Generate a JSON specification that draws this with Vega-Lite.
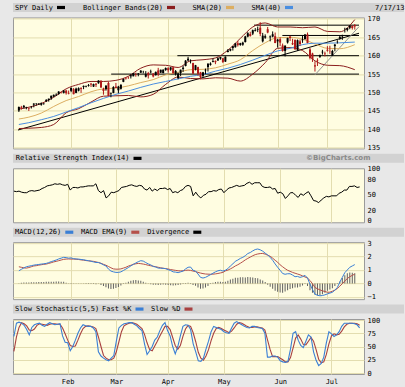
{
"$schema":"https://vega.github.io/schema/vega-lite/v6.json",
"background":"#e8e8e8",
"padding":{"left":11,"top":3,"right":3,"bottom":2},
"datasets":{
"px":[
{"n":0,"o":145.1,"h":146.2,"l":144.7,"c":146.06,"r":57,"m":0.94,"s":1.24,"v":0.02,"k":69,"d":41},
{"n":1,"o":145.99,"h":146.37,"l":145.34,"c":145.73,"r":56,"m":1.05,"s":1.2,"v":0.05,"k":94,"d":68},
{"n":2,"o":145.97,"h":146.61,"l":145.67,"c":146.37,"r":57,"m":1.15,"s":1.16,"v":0.06,"k":96,"d":86},
{"n":3,"o":145.85,"h":146.11,"l":145.43,"c":145.97,"r":55,"m":1.24,"s":1.14,"v":0.06,"k":94,"d":95},
{"n":4,"o":145.71,"h":145.91,"l":144.98,"c":145.55,"r":54,"m":1.28,"s":1.18,"v":0.07,"k":90,"d":93},
{"n":5,"o":145.87,"h":146.32,"l":145.64,"c":145.92,"r":54,"m":1.32,"s":1.24,"v":0.08,"k":82,"d":89},
{"n":6,"o":146.7,"h":147.09,"l":145.97,"c":146.98,"r":57,"m":1.36,"s":1.3,"v":0.08,"k":72,"d":81},
{"n":7,"o":146.96,"h":147.07,"l":146.43,"c":147.07,"r":58,"m":1.39,"s":1.32,"v":0.09,"k":86,"d":80},
{"n":8,"o":146.77,"h":147.1,"l":146.62,"c":146.97,"r":57,"m":1.41,"s":1.36,"v":0.1,"k":91,"d":83},
{"n":9,"o":146.66,"h":147.3,"l":146.41,"c":147.07,"r":58,"m":1.44,"s":1.39,"v":0.1,"k":93,"d":90},
{"n":10,"o":146.96,"h":147.14,"l":146.66,"c":147.05,"r":59,"m":1.46,"s":1.42,"v":0.11,"k":94,"d":93},
{"n":11,"o":147.61,"h":148.17,"l":147.43,"c":148.0,"r":62,"m":1.49,"s":1.44,"v":0.12,"k":90,"d":92},
{"n":12,"o":147.96,"h":148.33,"l":147.52,"c":148.33,"r":64,"m":1.55,"s":1.49,"v":0.12,"k":88,"d":91},
{"n":13,"o":148.45,"h":149.13,"l":148.0,"c":149.13,"r":67,"m":1.62,"s":1.54,"v":0.13,"k":92,"d":90},
{"n":14,"o":148.9,"h":149.45,"l":148.72,"c":149.37,"r":68,"m":1.68,"s":1.6,"v":0.13,"k":95,"d":92},
{"n":15,"o":149.2,"h":149.77,"l":149.05,"c":149.41,"r":69,"m":1.74,"s":1.64,"v":0.14,"k":93,"d":93},
{"n":16,"o":149.61,"h":150.36,"l":149.38,"c":150.25,"r":71,"m":1.82,"s":1.69,"v":0.14,"k":91,"d":93},
{"n":17,"o":150.04,"h":150.28,"l":149.73,"c":149.99,"r":70,"m":1.88,"s":1.74,"v":0.13,"k":92,"d":92},
{"n":18,"o":149.9,"h":150.64,"l":149.74,"c":150.51,"r":71,"m":1.94,"s":1.79,"v":0.12,"k":93,"d":92},
{"n":19,"o":150.52,"h":150.73,"l":149.42,"c":149.83,"r":69,"m":1.92,"s":1.81,"v":0.05,"k":70,"d":85},
{"n":20,"o":149.84,"h":150.53,"l":149.5,"c":149.7,"r":68,"m":1.88,"s":1.82,"v":0.02,"k":58,"d":74},
{"n":21,"o":150.45,"h":151.36,"l":150.1,"c":151.24,"r":70,"m":1.9,"s":1.81,"v":0.03,"k":57,"d":62},
{"n":22,"o":150.9,"h":151.2,"l":149.5,"c":149.54,"r":59,"m":1.84,"s":1.81,"v":-0.02,"k":42,"d":52},
{"n":23,"o":149.9,"h":151.31,"l":149.8,"c":151.05,"r":64,"m":1.82,"s":1.8,"v":-0.02,"k":50,"d":50},
{"n":24,"o":150.5,"h":151.4,"l":150.3,"c":151.16,"r":64,"m":1.81,"s":1.78,"v":-0.02,"k":62,"d":51},
{"n":25,"o":151.2,"h":151.44,"l":149.9,"c":150.96,"r":63,"m":1.78,"s":1.75,"v":-0.03,"k":75,"d":62},
{"n":26,"o":151.5,"h":151.9,"l":150.9,"c":151.8,"r":65,"m":1.76,"s":1.73,"v":-0.03,"k":85,"d":74},
{"n":27,"o":151.6,"h":151.9,"l":151.4,"c":151.77,"r":65,"m":1.72,"s":1.7,"v":-0.04,"k":91,"d":84},
{"n":28,"o":151.8,"h":152.3,"l":151.6,"c":152.02,"r":66,"m":1.69,"s":1.68,"v":-0.04,"k":89,"d":88},
{"n":29,"o":152.4,"h":152.6,"l":151.5,"c":152.15,"r":67,"m":1.65,"s":1.66,"v":-0.05,"k":88,"d":89},
{"n":30,"o":151.6,"h":152.4,"l":151.5,"c":152.29,"r":67,"m":1.6,"s":1.64,"v":-0.05,"k":88,"d":88},
{"n":31,"o":152.4,"h":152.5,"l":151.5,"c":152.11,"r":67,"m":1.56,"s":1.6,"v":-0.06,"k":85,"d":87},
{"n":32,"o":152.5,"h":153.3,"l":152.4,"c":153.25,"r":71,"m":1.56,"s":1.55,"v":-0.03,"k":78,"d":84},
{"n":33,"o":153.2,"h":153.3,"l":151.3,"c":151.34,"r":58,"m":1.48,"s":1.5,"v":-0.12,"k":40,"d":68},
{"n":34,"o":151.0,"h":151.3,"l":149.4,"c":150.42,"r":54,"m":1.38,"s":1.42,"v":-0.2,"k":32,"d":50},
{"n":35,"o":150.9,"h":151.9,"l":150.5,"c":151.89,"r":58,"m":1.3,"s":1.35,"v":-0.28,"k":28,"d":33},
{"n":36,"o":152.6,"h":152.9,"l":149.0,"c":149.0,"r":44,"m":1.07,"s":1.26,"v":-0.38,"k":25,"d":28},
{"n":37,"o":149.6,"h":150.0,"l":148.7,"c":149.75,"r":48,"m":0.92,"s":1.16,"v":-0.42,"k":23,"d":25},
{"n":38,"o":149.9,"h":151.7,"l":149.8,"c":151.5,"r":55,"m":0.86,"s":1.08,"v":-0.4,"k":28,"d":25},
{"n":39,"o":151.6,"h":152.6,"l":151.2,"c":151.22,"r":54,"m":0.82,"s":1.06,"v":-0.34,"k":33,"d":28},
{"n":40,"o":150.6,"h":151.8,"l":149.8,"c":151.61,"r":56,"m":0.82,"s":1.06,"v":-0.26,"k":60,"d":40},
{"n":41,"o":151.0,"h":152.2,"l":150.8,"c":152.11,"r":58,"m":0.86,"s":1.08,"v":-0.15,"k":85,"d":59},
{"n":42,"o":152.9,"h":153.8,"l":152.8,"c":153.66,"r":64,"m":0.96,"s":1.14,"v":-0.05,"k":90,"d":78},
{"n":43,"o":153.9,"h":154.2,"l":153.5,"c":153.79,"r":65,"m":1.07,"s":1.2,"v":0.05,"k":93,"d":89},
{"n":44,"o":154.1,"h":154.3,"l":153.7,"c":154.07,"r":66,"m":1.18,"s":1.29,"v":0.12,"k":94,"d":92},
{"n":45,"o":154.4,"h":155.0,"l":153.8,"c":154.7,"r":68,"m":1.3,"s":1.35,"v":0.2,"k":95,"d":94},
{"n":46,"o":154.4,"h":155.3,"l":154.4,"c":155.24,"r":69,"m":1.42,"s":1.42,"v":0.24,"k":95,"d":95},
{"n":47,"o":155.0,"h":155.4,"l":154.3,"c":154.91,"r":67,"m":1.52,"s":1.46,"v":0.25,"k":92,"d":94},
{"n":48,"o":155.0,"h":155.3,"l":154.4,"c":155.13,"r":66,"m":1.62,"s":1.49,"v":0.22,"k":89,"d":92},
{"n":49,"o":155.4,"h":156.1,"l":155.3,"c":155.92,"r":68,"m":1.69,"s":1.47,"v":0.2,"k":84,"d":88},
{"n":50,"o":155.8,"h":155.9,"l":155.2,"c":155.83,"r":67,"m":1.66,"s":1.44,"v":0.12,"k":80,"d":84},
{"n":51,"o":154.3,"h":155.8,"l":154.1,"c":154.97,"r":61,"m":1.55,"s":1.4,"v":0.05,"k":55,"d":73},
{"n":52,"o":155.3,"h":155.6,"l":153.8,"c":154.61,"r":59,"m":1.45,"s":1.35,"v":-0.02,"k":35,"d":57},
{"n":53,"o":155.5,"h":156.2,"l":155.2,"c":155.69,"r":64,"m":1.38,"s":1.31,"v":-0.06,"k":42,"d":44},
{"n":54,"o":155.1,"h":155.3,"l":154.1,"c":154.36,"r":57,"m":1.26,"s":1.28,"v":-0.1,"k":50,"d":42},
{"n":55,"o":154.7,"h":155.7,"l":154.6,"c":155.6,"r":61,"m":1.22,"s":1.24,"v":-0.1,"k":62,"d":51},
{"n":56,"o":156.0,"h":156.7,"l":154.4,"c":154.95,"r":58,"m":1.14,"s":1.2,"v":-0.12,"k":68,"d":60},
{"n":57,"o":155.4,"h":156.2,"l":155.3,"c":156.19,"r":62,"m":1.13,"s":1.16,"v":-0.1,"k":80,"d":70},
{"n":58,"o":155.3,"h":156.3,"l":155.2,"c":156.19,"r":62,"m":1.12,"s":1.13,"v":-0.08,"k":90,"d":79},
{"n":59,"o":156.1,"h":156.8,"l":155.9,"c":156.67,"r":63,"m":1.1,"s":1.1,"v":-0.1,"k":95,"d":88},
{"n":60,"o":156.6,"h":156.9,"l":155.4,"c":156.05,"r":60,"m":1.02,"s":1.07,"v":-0.12,"k":80,"d":88},
{"n":61,"o":156.2,"h":156.9,"l":155.9,"c":156.82,"r":62,"m":0.96,"s":1.03,"v":-0.13,"k":70,"d":82},
{"n":62,"o":156.8,"h":157.0,"l":155.1,"c":155.23,"r":54,"m":0.86,"s":1.0,"v":-0.15,"k":50,"d":67},
{"n":63,"o":155.0,"h":156.1,"l":154.6,"c":155.86,"r":56,"m":0.84,"s":0.97,"v":-0.14,"k":36,"d":52},
{"n":64,"o":153.9,"h":155.4,"l":153.6,"c":155.16,"r":54,"m":0.8,"s":0.94,"v":-0.12,"k":50,"d":45},
{"n":65,"o":155.3,"h":156.2,"l":154.5,"c":156.21,"r":58,"m":0.86,"s":0.93,"v":-0.08,"k":70,"d":52},
{"n":66,"o":156.4,"h":157.3,"l":155.6,"c":156.75,"r":60,"m":0.92,"s":0.94,"v":-0.04,"k":88,"d":69},
{"n":67,"o":157.2,"h":158.8,"l":157.1,"c":158.67,"r":66,"m":1.08,"s":0.97,"v":0.03,"k":91,"d":83},
{"n":68,"o":158.7,"h":159.7,"l":158.5,"c":159.19,"r":68,"m":1.2,"s":0.99,"v":0.05,"k":90,"d":90},
{"n":69,"o":158.7,"h":159.0,"l":157.9,"c":158.8,"r":66,"m":1.22,"s":0.97,"v":0.04,"k":82,"d":88},
{"n":70,"o":158.0,"h":158.1,"l":155.1,"c":155.12,"r":48,"m":0.98,"s":0.92,"v":-0.12,"k":55,"d":76},
{"n":71,"o":156.2,"h":157.5,"l":156.0,"c":157.41,"r":55,"m":0.92,"s":0.88,"v":-0.18,"k":40,"d":59},
{"n":72,"o":156.9,"h":157.0,"l":154.6,"c":155.11,"r":48,"m":0.7,"s":0.82,"v":-0.3,"k":23,"d":39},
{"n":73,"o":155.5,"h":155.6,"l":153.6,"c":154.14,"r":44,"m":0.45,"s":0.77,"v":-0.4,"k":22,"d":28},
{"n":74,"o":154.5,"h":155.6,"l":154.1,"c":155.48,"r":49,"m":0.4,"s":0.73,"v":-0.38,"k":28,"d":24},
{"n":75,"o":156.0,"h":156.5,"l":155.0,"c":156.17,"r":51,"m":0.45,"s":0.7,"v":-0.3,"k":45,"d":32},
{"n":76,"o":156.9,"h":158.0,"l":155.7,"c":157.78,"r":56,"m":0.55,"s":0.69,"v":-0.2,"k":60,"d":44},
{"n":77,"o":157.5,"h":158.2,"l":157.3,"c":157.88,"r":56,"m":0.65,"s":0.68,"v":-0.05,"k":78,"d":61},
{"n":78,"o":158.3,"h":159.3,"l":158.2,"c":158.52,"r":58,"m":0.76,"s":0.69,"v":0.05,"k":88,"d":75},
{"n":79,"o":158.6,"h":158.7,"l":157.7,"c":158.24,"r":57,"m":0.86,"s":0.71,"v":0.1,"k":86,"d":84},
{"n":80,"o":158.7,"h":159.6,"l":158.6,"c":159.3,"r":60,"m":0.94,"s":0.74,"v":0.12,"k":84,"d":86},
{"n":81,"o":159.2,"h":159.7,"l":158.9,"c":159.68,"r":61,"m":0.98,"s":0.78,"v":0.13,"k":82,"d":84},
{"n":82,"o":159.3,"h":159.4,"l":158.0,"c":158.28,"r":54,"m":0.92,"s":0.82,"v":0.1,"k":78,"d":81},
{"n":83,"o":158.4,"h":159.8,"l":158.3,"c":159.75,"r":59,"m":0.98,"s":0.93,"v":0.12,"k":76,"d":79},
{"n":84,"o":161.0,"h":161.8,"l":160.9,"c":161.37,"r":63,"m":1.1,"s":0.99,"v":0.2,"k":75,"d":76},
{"n":85,"o":161.4,"h":161.9,"l":161.2,"c":161.78,"r":64,"m":1.3,"s":1.08,"v":0.3,"k":85,"d":79},
{"n":86,"o":162.1,"h":162.6,"l":161.4,"c":162.6,"r":66,"m":1.45,"s":1.18,"v":0.35,"k":94,"d":85},
{"n":87,"o":162.3,"h":163.4,"l":162.2,"c":163.34,"r":68,"m":1.65,"s":1.3,"v":0.42,"k":97,"d":92},
{"n":88,"o":163.4,"h":164.0,"l":162.5,"c":162.88,"r":66,"m":1.74,"s":1.39,"v":0.42,"k":94,"d":95},
{"n":89,"o":162.9,"h":163.5,"l":162.7,"c":163.41,"r":67,"m":1.86,"s":1.5,"v":0.45,"k":91,"d":94},
{"n":90,"o":163.0,"h":163.8,"l":162.7,"c":163.54,"r":68,"m":1.94,"s":1.62,"v":0.46,"k":88,"d":91},
{"n":91,"o":163.7,"h":165.4,"l":163.6,"c":165.23,"r":72,"m":2.06,"s":1.75,"v":0.44,"k":86,"d":88},
{"n":92,"o":165.2,"h":166.4,"l":165.0,"c":166.12,"r":74,"m":2.22,"s":1.86,"v":0.48,"k":85,"d":86},
{"n":93,"o":165.9,"h":166.5,"l":165.2,"c":165.34,"r":70,"m":2.3,"s":1.96,"v":0.46,"k":88,"d":86},
{"n":94,"o":166.0,"h":167.1,"l":165.6,"c":166.94,"r":73,"m":2.42,"s":2.06,"v":0.44,"k":88,"d":87},
{"n":95,"o":166.7,"h":167.5,"l":166.6,"c":166.93,"r":73,"m":2.52,"s":2.14,"v":0.4,"k":86,"d":87},
{"n":96,"o":167.0,"h":167.9,"l":166.4,"c":167.17,"r":73,"m":2.56,"s":2.19,"v":0.38,"k":85,"d":86},
{"n":97,"o":167.6,"h":169.1,"l":165.3,"c":165.93,"r":66,"m":2.5,"s":2.22,"v":0.3,"k":84,"d":85},
{"n":98,"o":163.9,"h":166.2,"l":163.6,"c":165.45,"r":64,"m":2.4,"s":2.23,"v":0.22,"k":75,"d":81},
{"n":99,"o":164.9,"h":165.8,"l":164.6,"c":165.31,"r":64,"m":2.25,"s":2.18,"v":0.1,"k":30,"d":63},
{"n":100,"o":167.2,"h":167.8,"l":166.1,"c":166.3,"r":65,"m":2.12,"s":2.1,"v":-0.1,"k":30,"d":45},
{"n":101,"o":165.0,"h":165.5,"l":163.9,"c":165.22,"r":61,"m":1.94,"s":2.02,"v":-0.25,"k":32,"d":31},
{"n":102,"o":165.2,"h":166.6,"l":165.0,"c":165.83,"r":62,"m":1.72,"s":1.88,"v":-0.4,"k":32,"d":31},
{"n":103,"o":165.3,"h":166.3,"l":163.4,"c":163.45,"r":53,"m":1.45,"s":1.72,"v":-0.55,"k":30,"d":31},
{"n":104,"o":163.9,"h":164.6,"l":162.2,"c":164.35,"r":55,"m":1.2,"s":1.58,"v":-0.62,"k":23,"d":28},
{"n":105,"o":164.5,"h":165.0,"l":162.6,"c":163.56,"r":52,"m":0.98,"s":1.38,"v":-0.68,"k":21,"d":25},
{"n":106,"o":162.8,"h":163.3,"l":161.1,"c":161.27,"r":43,"m":0.74,"s":1.24,"v":-0.7,"k":20,"d":21},
{"n":107,"o":161.3,"h":162.8,"l":159.8,"c":162.73,"r":48,"m":0.68,"s":1.1,"v":-0.6,"k":22,"d":21},
{"n":108,"o":163.6,"h":164.9,"l":163.3,"c":164.8,"r":54,"m":0.72,"s":0.98,"v":-0.5,"k":45,"d":29},
{"n":109,"o":165.2,"h":165.4,"l":164.0,"c":164.8,"r":54,"m":0.72,"s":0.9,"v":-0.42,"k":75,"d":47},
{"n":110,"o":163.4,"h":164.6,"l":162.9,"c":163.1,"r":49,"m":0.62,"s":0.82,"v":-0.35,"k":78,"d":66},
{"n":111,"o":164.3,"h":164.4,"l":161.6,"c":161.75,"r":45,"m":0.5,"s":0.76,"v":-0.3,"k":62,"d":72},
{"n":112,"o":161.6,"h":164.4,"l":161.3,"c":164.21,"r":52,"m":0.52,"s":0.7,"v":-0.3,"k":52,"d":64},
{"n":113,"o":163.9,"h":164.4,"l":162.7,"c":163.18,"r":49,"m":0.45,"s":0.64,"v":-0.25,"k":48,"d":54},
{"n":114,"o":164.2,"h":165.4,"l":163.5,"c":164.44,"r":53,"m":0.5,"s":0.56,"v":-0.15,"k":60,"d":53},
{"n":115,"o":164.5,"h":165.9,"l":164.4,"c":165.74,"r":56,"m":0.6,"s":0.48,"v":-0.05,"k":72,"d":60},
{"n":116,"o":165.8,"h":166.3,"l":163.4,"c":163.45,"r":48,"m":0.4,"s":0.4,"v":-0.2,"k":68,"d":67},
{"n":117,"o":161.7,"h":162.1,"l":159.0,"c":159.4,"r":39,"m":-0.05,"s":0.22,"v":-0.5,"k":40,"d":60},
{"n":118,"o":160.6,"h":160.8,"l":158.3,"c":159.07,"r":38,"m":-0.45,"s":-0.02,"v":-0.7,"k":24,"d":44},
{"n":119,"o":157.4,"h":158.5,"l":155.7,"c":157.06,"r":35,"m":-0.8,"s":-0.3,"v":-0.85,"k":14,"d":26},
{"n":120,"o":158.7,"h":159.3,"l":157.2,"c":158.57,"r":40,"m":-0.88,"s":-0.4,"v":-0.9,"k":18,"d":19},
{"n":121,"o":159.7,"h":160.3,"l":159.4,"c":160.14,"r":44,"m":-0.92,"s":-0.48,"v":-0.88,"k":30,"d":21},
{"n":122,"o":160.9,"h":161.6,"l":160.3,"c":161.08,"r":47,"m":-0.9,"s":-0.55,"v":-0.8,"k":57,"d":35},
{"n":123,"o":160.6,"h":161.1,"l":159.8,"c":160.42,"r":46,"m":-0.85,"s":-0.6,"v":-0.7,"k":78,"d":55},
{"n":124,"o":161.6,"h":162.6,"l":161.1,"c":161.36,"r":48,"m":-0.78,"s":-0.66,"v":-0.55,"k":74,"d":70},
{"n":125,"o":161.3,"h":162.7,"l":160.5,"c":161.21,"r":48,"m":-0.72,"s":-0.65,"v":-0.45,"k":69,"d":74},
{"n":126,"o":160.0,"h":161.6,"l":159.9,"c":161.28,"r":48,"m":-0.66,"s":-0.58,"v":-0.35,"k":72,"d":72},
{"n":127,"o":162.6,"h":163.2,"l":161.2,"c":163.02,"r":53,"m":-0.5,"s":-0.5,"v":-0.2,"k":78,"d":73},
{"n":128,"o":163.9,"h":164.2,"l":163.3,"c":163.95,"r":55,"m":-0.3,"s":-0.38,"v":-0.05,"k":88,"d":79},
{"n":129,"o":164.8,"h":165.4,"l":164.3,"c":165.13,"r":59,"m":0.1,"s":-0.2,"v":0.15,"k":94,"d":87},
{"n":130,"o":165.0,"h":165.7,"l":164.3,"c":165.19,"r":59,"m":0.45,"s":-0.02,"v":0.4,"k":94,"d":92},
{"n":131,"o":167.4,"h":167.6,"l":166.3,"c":167.44,"r":66,"m":0.8,"s":0.18,"v":0.6,"k":94,"d":94},
{"n":132,"o":167.0,"h":167.6,"l":166.6,"c":167.51,"r":66,"m":1.0,"s":0.36,"v":0.75,"k":94,"d":94},
{"n":133,"o":167.6,"h":168.3,"l":167.2,"c":168.15,"r":67,"m":1.2,"s":0.5,"v":0.82,"k":93,"d":94},
{"n":134,"o":168.1,"h":168.2,"l":167.1,"c":167.52,"r":64,"m":1.3,"s":0.6,"v":0.8,"k":91,"d":93},
{"n":135,"o":168.3,"h":168.6,"l":167.1,"c":167.95,"r":65,"m":1.4,"s":0.69,"v":0.75,"k":85,"d":90}
],
"ma":[
{"n":0,"a20":142.8,"a40":141.3,"bu":145.5,"bl":140.2},
{"n":4,"a20":143.3,"a40":141.8,"bu":146.0,"bl":140.3},
{"n":9,"a20":144.4,"a40":142.6,"bu":147.0,"bl":140.5},
{"n":14,"a20":146.2,"a40":143.5,"bu":148.7,"bl":141.3},
{"n":19,"a20":147.8,"a40":144.7,"bu":151.0,"bl":144.5},
{"n":24,"a20":148.9,"a40":145.9,"bu":152.2,"bl":145.6},
{"n":29,"a20":150.2,"a40":147.2,"bu":153.0,"bl":147.4},
{"n":34,"a20":151.0,"a40":148.4,"bu":153.0,"bl":149.0},
{"n":39,"a20":151.2,"a40":149.5,"bu":153.3,"bl":149.1},
{"n":44,"a20":151.8,"a40":150.4,"bu":154.4,"bl":149.2},
{"n":49,"a20":152.7,"a40":151.4,"bu":156.6,"bl":148.8},
{"n":54,"a20":153.5,"a40":152.3,"bu":157.5,"bl":149.5},
{"n":59,"a20":154.8,"a40":153.0,"bu":157.4,"bl":152.2},
{"n":64,"a20":155.5,"a40":153.7,"bu":156.8,"bl":154.2},
{"n":69,"a20":156.2,"a40":154.4,"bu":158.6,"bl":153.8},
{"n":74,"a20":156.3,"a40":154.9,"bu":158.9,"bl":153.7},
{"n":79,"a20":156.7,"a40":155.8,"bu":159.4,"bl":154.0},
{"n":84,"a20":157.7,"a40":156.6,"bu":161.5,"bl":153.9},
{"n":89,"a20":158.9,"a40":157.6,"bu":164.7,"bl":153.1},
{"n":94,"a20":161.4,"a40":158.8,"bu":167.8,"bl":155.0},
{"n":99,"a20":163.5,"a40":160.1,"bu":168.9,"bl":158.1},
{"n":104,"a20":164.9,"a40":161.3,"bu":167.8,"bl":162.0},
{"n":109,"a20":165.0,"a40":162.0,"bu":167.8,"bl":162.2},
{"n":114,"a20":164.5,"a40":163.0,"bu":167.6,"bl":161.4},
{"n":119,"a20":163.2,"a40":163.4,"bu":167.8,"bl":158.6},
{"n":124,"a20":162.0,"a40":163.4,"bu":166.6,"bl":157.4},
{"n":129,"a20":161.9,"a40":163.5,"bu":166.5,"bl":157.3},
{"n":135,"a20":163.0,"a40":163.7,"bu":169.8,"bl":156.2}
],
"tl":[
{"g":"a","n":94.5,"p":168.3},{"g":"a","n":136.7,"p":168.3},
{"g":"b","n":105.9,"p":165.5},{"g":"b","n":136.7,"p":165.5},
{"g":"c","n":63.7,"p":160.0},{"g":"c","n":136.7,"p":160.0},
{"g":"d","n":37.1,"p":155.0},{"g":"d","n":136.7,"p":155.0},
{"g":"e","n":-0.35,"p":139.8},{"g":"e","n":136.7,"p":166.1},
{"g":"f","n":119,"p":154.8},{"g":"f","n":136.7,"p":167.9}
]
},
"spacing":5.43,
"bounds":"flush",
"resolve":{"scale":{"x":"independent","y":"independent","color":"independent","shape":"independent"}},
"vconcat":[
{"width":391,"height":9,"view":{"fill":"#d2d2d2","stroke":null},
 "data":{"values":[{"s":"SPY Daily","t":"7/17/13"}]},
 "mark":{"type":"point","filled":true},
 "encoding":{"x":{"field":"n","type":"quantitative","axis":null},
  "color":{"field":"s","type":"nominal","scale":{"domain":["SPY Daily","Bollinger Bands(20)","SMA(20)","SMA(40)"],"range":["#000000","#8b1e1e","#dcae62","#4a8ee0"]},
   "legend":{"title":null,"orient":"none","legendX":44,"legendY":0.5,"direction":"horizontal","padding":0,"symbolType":"M-1,-0.4H1V0.4H-1Z","symbolSize":64,"symbolStrokeWidth":0,"symbolOpacity":1,"labelAlign":"right","labelOffset":-12,"columnPadding":17}},
  "shape":{"field":"t","type":"nominal","scale":{"domain":["7/17/13"],"range":["square"]},
   "legend":{"title":null,"orient":"none","legendX":355,"legendY":1,"padding":0,"symbolSize":0,"symbolOpacity":0,"symbolStrokeWidth":0,"labelAlign":"left","labelOffset":0}}}},
{"width":351,"height":131,"view":{"fill":"#fffde1","stroke":"#9a9a9a"},
  "layer":[
   {"data":{"name":"tl"},"transform":[{"filter":"datum.g!='f'"}],"mark":{"type":"line","color":"#000","strokeWidth":1,"clip":true},
    "encoding":{"x":{"field":"n","type":"quantitative","scale":{"domain":[-0.35,136.7],"nice":false,"zero":false},"axis":{"values":[21,40,60,82,104,124],"tickCount":20,"grid":true,"labels":false,"title":null,"orient":"bottom"}},
     "y":{"field":"p","type":"quantitative","scale":{"domain":[134.8,170.4],"nice":false,"zero":false},"axis":{"orient":"right","values":[135,140,145,150,155,160,165,170],"tickCount":20,"grid":true,"title":null,"labelOverlap":false}},
     "detail":{"field":"g"}}},
   {"data":{"name":"tl"},"transform":[{"filter":"datum.g=='f'"}],"mark":{"type":"line","color":"#909090","strokeWidth":1,"clip":true},
    "encoding":{"x":{"field":"n","type":"quantitative","scale":{"domain":[-0.35,136.7],"nice":false,"zero":false}},"y":{"field":"p","type":"quantitative","scale":{"domain":[134.8,170.4],"nice":false,"zero":false}}}},
   {"data":{"name":"ma"},"mark":{"type":"line","color":"#8b1e1e","strokeWidth":1,"interpolate":"monotone"},
    "encoding":{"x":{"field":"n","type":"quantitative","scale":{"domain":[-0.35,136.7],"nice":false,"zero":false}},"y":{"field":"bu","type":"quantitative","scale":{"domain":[134.8,170.4],"nice":false,"zero":false}}}},
   {"data":{"name":"ma"},"mark":{"type":"line","color":"#8b1e1e","strokeWidth":1,"interpolate":"monotone"},
    "encoding":{"x":{"field":"n","type":"quantitative","scale":{"domain":[-0.35,136.7],"nice":false,"zero":false}},"y":{"field":"bl","type":"quantitative","scale":{"domain":[134.8,170.4],"nice":false,"zero":false}}}},
   {"data":{"name":"ma"},"mark":{"type":"line","color":"#dcae62","strokeWidth":1,"interpolate":"monotone"},
    "encoding":{"x":{"field":"n","type":"quantitative","scale":{"domain":[-0.35,136.7],"nice":false,"zero":false}},"y":{"field":"a20","type":"quantitative","scale":{"domain":[134.8,170.4],"nice":false,"zero":false}}}},
   {"data":{"name":"ma"},"mark":{"type":"line","color":"#4a8ee0","strokeWidth":1,"interpolate":"monotone"},
    "encoding":{"x":{"field":"n","type":"quantitative","scale":{"domain":[-0.35,136.7],"nice":false,"zero":false}},"y":{"field":"a40","type":"quantitative","scale":{"domain":[134.8,170.4],"nice":false,"zero":false}}}},
   {"data":{"name":"px"},"mark":{"type":"rule","strokeWidth":1},
    "encoding":{"x":{"field":"n","type":"quantitative","scale":{"domain":[-0.35,136.7],"nice":false,"zero":false}},"y":{"field":"l","type":"quantitative","scale":{"domain":[134.8,170.4],"nice":false,"zero":false}},"y2":{"field":"h"},
     "color":{"condition":{"test":"datum.c<datum.o","value":"#b01818"},"value":"#000000"}}},
   {"data":{"name":"px"},"mark":{"type":"bar","size":2},
    "encoding":{"x":{"field":"n","type":"quantitative","scale":{"domain":[-0.35,136.7],"nice":false,"zero":false}},"y":{"field":"o","type":"quantitative","scale":{"domain":[134.8,170.4],"nice":false,"zero":false}},"y2":{"field":"c"},
     "color":{"condition":{"test":"datum.c<datum.o","value":"#b01818"},"value":"#000000"}}}
  ]},
{"width":391,"height":9,"view":{"fill":"#d2d2d2","stroke":null},
 "data":{"values":[{"s":"Relative Strength Index(14)","t":"©BigCharts.com"}]},
 "mark":{"type":"point","filled":true},
 "encoding":{"x":{"field":"n","type":"quantitative","axis":null},
  "color":{"field":"s","type":"nominal","scale":{"domain":["Relative Strength Index(14)"],"range":["#000000"]},
   "legend":{"title":null,"orient":"none","legendX":120.5,"legendY":0.5,"direction":"horizontal","padding":0,"symbolType":"M-1,-0.4H1V0.4H-1Z","symbolSize":64,"symbolStrokeWidth":0,"symbolOpacity":1,"labelAlign":"right","labelOffset":-12,"columnPadding":7}},
  "shape":{"field":"t","type":"nominal","scale":{"domain":["©BigCharts.com"],"range":["square"]},
   "legend":{"title":null,"orient":"none","legendX":286,"legendY":1,"padding":0,"symbolSize":0,"symbolOpacity":0,"symbolStrokeWidth":0,"labelAlign":"left","labelOffset":0,"labelFont":"DejaVu Sans","labelFontWeight":"bold","labelFontSize":7,"labelColor":"#8a8a8a"}}}},
{"width":351,"height":54,"view":{"fill":"#fffde1","stroke":"#9a9a9a"},
  "layer":[
   {"data":{"name":"px"},"mark":{"type":"line","color":"#000","strokeWidth":1},
    "encoding":{"x":{"field":"n","type":"quantitative","scale":{"domain":[-0.35,136.7],"nice":false,"zero":false},"axis":{"values":[21,40,60,82,104,124],"tickCount":20,"grid":true,"labels":false,"title":null,"orient":"bottom"}},
     "y":{"field":"r","type":"quantitative","scale":{"domain":[-2.5,100.6],"nice":false,"zero":false},"axis":{"orient":"right","values":[0,20,50,80,100],"tickCount":20,"grid":false,"title":null,"labelOverlap":false}}}},
   {"mark":{"type":"rule","color":"#000","strokeWidth":1.5},"encoding":{"y":{"datum":50,"type":"quantitative","scale":{"domain":[-2.5,100.6],"nice":false,"zero":false}}}}
  ]},
{"width":391,"height":9,"view":{"fill":"#d2d2d2","stroke":null},
 "data":{"values":[{"s":"MACD(12,26)"}]},
 "mark":{"type":"point","filled":true},
 "encoding":{"x":{"field":"n","type":"quantitative","axis":null},
  "color":{"field":"s","type":"nominal","scale":{"domain":["MACD(12,26)","MACD EMA(9)","Divergence"],"range":["#3a7fd5","#b5504a","#000000"]},
   "legend":{"title":null,"orient":"none","legendX":52.3,"legendY":0.5,"direction":"horizontal","padding":0,"symbolType":"M-1,-0.4H1V0.4H-1Z","symbolSize":64,"symbolStrokeWidth":0,"symbolOpacity":1,"labelAlign":"right","labelOffset":-12,"columnPadding":7}}}},
{"width":351,"height":57,"view":{"fill":"#fffde1","stroke":"#9a9a9a"},
  "layer":[
   {"data":{"name":"px"},"mark":{"type":"bar","size":1,"color":"#606060"},
    "encoding":{"x":{"field":"n","type":"quantitative","scale":{"domain":[-0.35,136.7],"nice":false,"zero":false},"axis":{"values":[21,40,60,82,104,124],"tickCount":20,"grid":true,"labels":false,"title":null,"orient":"bottom"}},
     "y":{"field":"v","type":"quantitative","scale":{"domain":[-1.17,3.07],"nice":false,"zero":false},"axis":{"orient":"right","values":[-1,0,1,2,3],"tickCount":20,"format":"d","grid":true,"title":null,"labelOverlap":false}},
     "y2":{"datum":0}}},
   {"mark":{"type":"rule","color":"#000","strokeWidth":1.2},"encoding":{"y":{"datum":0,"type":"quantitative","scale":{"domain":[-1.17,3.07],"nice":false,"zero":false}}}},
   {"data":{"name":"px"},"mark":{"type":"line","color":"#b5504a","strokeWidth":1},
    "encoding":{"x":{"field":"n","type":"quantitative","scale":{"domain":[-0.35,136.7],"nice":false,"zero":false}},"y":{"field":"s","type":"quantitative","scale":{"domain":[-1.17,3.07],"nice":false,"zero":false}}}},
   {"data":{"name":"px"},"mark":{"type":"line","color":"#3a7fd5","strokeWidth":1},
    "encoding":{"x":{"field":"n","type":"quantitative","scale":{"domain":[-0.35,136.7],"nice":false,"zero":false}},"y":{"field":"m","type":"quantitative","scale":{"domain":[-1.17,3.07],"nice":false,"zero":false}}}}
  ]},
{"width":391,"height":9,"view":{"fill":"#d2d2d2","stroke":null},
 "data":{"values":[{"s":"Fast %K","t":"Slow Stochastic(5,5)"}]},
 "mark":{"type":"point","filled":true},
 "encoding":{"x":{"field":"n","type":"quantitative","axis":null},
  "color":{"field":"s","type":"nominal","scale":{"domain":["Fast %K","Slow %D"],"range":["#3a7fd5","#a84040"]},
   "legend":{"title":null,"orient":"none","legendX":122.5,"legendY":0.5,"direction":"horizontal","padding":0,"symbolType":"M-1,-0.4H1V0.4H-1Z","symbolSize":64,"symbolStrokeWidth":0,"symbolOpacity":1,"labelAlign":"right","labelOffset":-12,"columnPadding":7}},
  "shape":{"field":"t","type":"nominal","scale":{"domain":["Slow Stochastic(5,5)"],"range":["square"]},
   "legend":{"title":null,"orient":"none","legendX":0,"legendY":1,"padding":0,"symbolSize":0,"symbolOpacity":0,"symbolStrokeWidth":0,"labelAlign":"left","labelOffset":-5}}}},
{"width":351,"height":55,"view":{"fill":"#fffde1","stroke":"#9a9a9a"},
  "layer":[
   {"data":{"name":"px"},"mark":{"type":"line","color":"#a84040","strokeWidth":1.1},
    "encoding":{"x":{"field":"n","type":"quantitative","scale":{"domain":[-0.35,136.7],"nice":false,"zero":false},"axis":{"values":[21,40,60,82,104,124],"tickCount":20,"grid":true,"labels":true,"title":null,"orient":"bottom","labelExpr":"datum.value==21?'Feb':datum.value==40?'Mar':datum.value==60?'Apr':datum.value==82?'May':datum.value==104?'Jun':'Jul'","labelPadding":3,"labelOverlap":false}},
     "y":{"field":"d","type":"quantitative","scale":{"domain":[-1.9,101.9],"nice":false,"zero":false},"axis":{"orient":"right","values":[0,25,50,75,100],"tickCount":20,"grid":true,"title":null,"labelOverlap":false}}}},
   {"data":{"name":"px"},"mark":{"type":"line","color":"#3a7fd5","strokeWidth":1.1},
    "encoding":{"x":{"field":"n","type":"quantitative","scale":{"domain":[-0.35,136.7],"nice":false,"zero":false}},"y":{"field":"k","type":"quantitative","scale":{"domain":[-1.9,101.9],"nice":false,"zero":false}}}}
  ]}
],
"config":{
"view":{"stroke":null},
"axis":{"labelFont":"DejaVu Sans Mono","labelFontSize":7,"labelColor":"#000","ticks":false,"domain":false,"gridColor":"#e3ddb0","gridWidth":1,"labelOverlap":false,"labelPadding":3},
"legend":{"labelFont":"DejaVu Sans Mono","labelFontSize":7,"labelColor":"#000","labelLimit":300}
}
}
